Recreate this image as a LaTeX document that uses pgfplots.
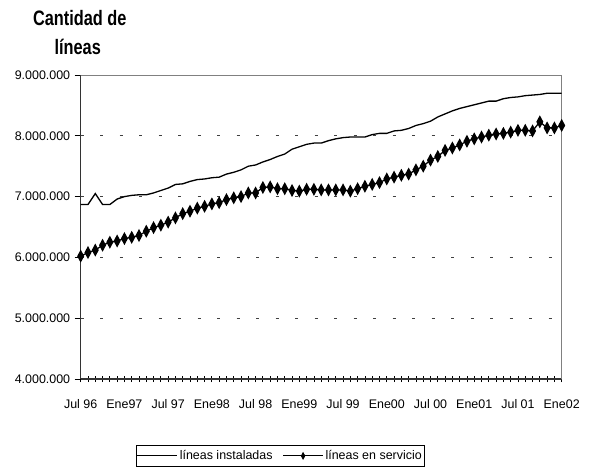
\documentclass[border=0pt]{standalone}
\usepackage{pgfplots}
\usepackage{pgfplotstable}
\pgfplotsset{compat=1.18}
\usepackage{fontspec}
\setmainfont{Liberation Sans}

\pgfplotstableread{
m inst serv
0 6870000 6020000
1 6870000 6080000
2 7050000 6120000
3 6870000 6200000
4 6870000 6250000
5 6960000 6270000
6 7000000 6310000
7 7020000 6330000
8 7030000 6360000
9 7030000 6430000
10 7060000 6490000
11 7100000 6530000
12 7140000 6580000
13 7200000 6650000
14 7210000 6720000
15 7250000 6760000
16 7280000 6810000
17 7290000 6840000
18 7310000 6880000
19 7320000 6900000
20 7370000 6950000
21 7400000 6980000
22 7440000 7000000
23 7500000 7060000
24 7520000 7060000
25 7570000 7150000
26 7610000 7160000
27 7660000 7130000
28 7700000 7130000
29 7780000 7100000
30 7820000 7090000
31 7860000 7120000
32 7880000 7120000
33 7880000 7110000
34 7920000 7110000
35 7950000 7110000
36 7970000 7110000
37 7980000 7090000
38 7980000 7130000
39 7980000 7170000
40 8020000 7200000
41 8040000 7230000
42 8040000 7290000
43 8080000 7320000
44 8090000 7350000
45 8120000 7370000
46 8170000 7440000
47 8200000 7500000
48 8240000 7600000
49 8310000 7660000
50 8360000 7760000
51 8410000 7800000
52 8450000 7850000
53 8480000 7910000
54 8510000 7950000
55 8540000 7980000
56 8570000 8010000
57 8570000 8030000
58 8610000 8040000
59 8630000 8060000
60 8640000 8090000
61 8660000 8090000
62 8670000 8080000
63 8680000 8230000
64 8700000 8130000
65 8700000 8130000
66 8700000 8170000
}\lineas

\begin{document}
\begin{tikzpicture}
\useasboundingbox (-80.7bp,-95bp) rectangle (516.3bp,379bp);
\begin{axis}[
  at={(0,0)}, anchor=south west,
  scale only axis,
  width=481bp, height=304bp,
  xmin=0, xmax=66,
  ymin=4000000, ymax=9000000,
  axis lines*=left,
  axis line style={line width=1.2bp, draw=black!80},
  xtick={0,6,...,66},
  xticklabels={Jul 96,Ene97,Jul 97,Ene98,Jul 98,Ene99,Jul 99,Ene00,Jul 00,Ene01,Jul 01,Ene02},
  minor xtick={0,1,...,66},
  ytick={4000000,5000000,...,9000000},
  scaled y ticks=false,
  /pgf/number format/fixed,
  /pgf/number format/1000 sep={.},
  /pgf/number format/assume math mode=true,
  x tick style={black, line width=0.8bp},
  y tick style={black, line width=0.8bp},
  x tick label style={font=\fontsize{12.5}{14}\selectfont, yshift=-14bp},
  y tick label style={font=\fontsize{12.5}{14}\selectfont, xshift=-1bp},
  xtick align=center,
  ytick align=outside,
  major tick length=6bp,
  minor tick length=6bp,
  ymajorgrids=true,
  major grid style={draw=black!75, line width=0.8bp, dash pattern=on 3bp off 16.5bp},
  legend columns=2,
  legend style={at={(axis description cs:0.415,-0.253)}, anchor=center,
    draw=black, line width=0.6bp, font=\fontsize{12.5}{14}\selectfont,
    inner xsep=1bp, inner ysep=3bp,
    /tikz/every even column/.append style={column sep=8bp}},
  legend image code/.code={\draw[#1, line width=1bp] (0bp,0bp) -- (40bp,0bp); \draw[#1, line width=0.8bp, mark size=2.3bp] plot coordinates {(20bp,0bp)};},
  clip=false,
]
\draw[black!50, line width=0.8bp] (rel axis cs:0,1) -- (rel axis cs:1,1) -- (rel axis cs:1,0);
\addplot[black, line width=1.3bp, mark=none] table[x=m, y=inst] {\lineas};
\addlegendentry{líneas instaladas}
\addplot[black, line width=1.3bp, mark=diamond*, mark size=3.7bp,
  mark options={yscale=1.4, solid, fill=black}] table[x=m, y=serv] {\lineas};
\addlegendentry{líneas en servicio}
\end{axis}
\node[font=\bfseries\fontsize{21}{24}\selectfont, xscale=0.78] at (-1bp,361bp) {Cantidad de};
\node[font=\bfseries\fontsize{21}{24}\selectfont, xscale=0.78] at (-3bp,332bp) {líneas};
\end{tikzpicture}
\end{document}
